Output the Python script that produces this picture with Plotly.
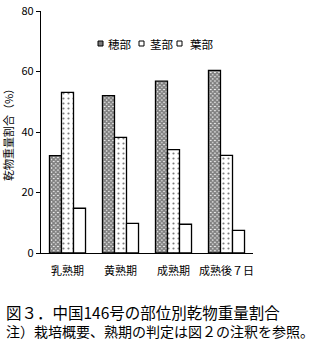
import plotly.graph_objects as go

categories = ["乳熟期", "黄熟期", "成熟期", "成熟後７日"]
series_names = ["穂部", "茎部", "葉部"]
ear = [32.2, 52.0, 56.8, 60.4]
stem = [53.1, 38.2, 34.2, 32.3]
leaf = [14.8, 9.8, 9.5, 7.5]
y_ticks = [0, 20, 40, 60, 80]

FONT = "Noto Sans CJK JP"
L, R, T, B, W, H = 41, 73, 11, 88, 326, 341
PW, PH = W - L - R, H - T - B


def px(x):
    return (x - L) / PW


def py(y):
    return (H - B - y) / PH


fig = go.Figure()
patterns = [
    dict(shape="x", size=3, solidity=0.8, fgcolor="black", bgcolor="white"),
    dict(shape=".", size=5, solidity=0.15, fgcolor="black", bgcolor="white"),
    dict(shape="", fgcolor="black", bgcolor="white"),
]
for name, vals, pat in zip(series_names, [ear, stem, leaf], patterns):
    fig.add_trace(go.Bar(
        x=categories, y=vals, name=name,
        marker=dict(color="white", line=dict(color="black", width=1.3), pattern=pat),
    ))

fig.update_layout(
    width=W, height=H,
    margin=dict(l=L, r=R, t=T, b=B, pad=0, autoexpand=False),
    paper_bgcolor="white", plot_bgcolor="white",
    barmode="group", bargap=0.32, bargroupgap=0,
    font=dict(family=FONT, size=11, color="black"),
    showlegend=False,
    xaxis=dict(showline=True, linecolor="black", linewidth=1.3, ticks="",
               tickfont=dict(size=11), showgrid=False, ticklabelstandoff=8,
               automargin=False),
    yaxis=dict(range=[0, 80], tickvals=y_ticks, showline=True, linecolor="black",
               linewidth=1.3, ticks="outside", ticklen=4, tickcolor="black",
               showgrid=False, zeroline=False, tickfont=dict(size=11), automargin=False,
               title=dict(text="乾物重量割合（%）", font=dict(size=11), standoff=8)),
)

# legend (manual, to match the compact reference layout)
legend_sym_x = [98, 139, 177]
legend_txt_x = [106, 148, 188]
legend_fill = ["#7a7a7a", "white", "white"]
for name, sx, tx, fc in zip(series_names, legend_sym_x, legend_txt_x, legend_fill):
    fig.add_shape(type="rect", xref="paper", yref="paper",
                  x0=px(sx), x1=px(sx + 5), y0=py(46), y1=py(41),
                  fillcolor=fc, line=dict(color="black", width=1))
    fig.add_annotation(text=name, xref="paper", yref="paper", x=px(tx), y=py(43.5),
                       xanchor="left", yanchor="middle", showarrow=False,
                       font=dict(size=11.5, family=FONT))

fig.add_annotation(
    text='<span style="font-size:15.5px">図３．中国146号の部位別乾物重量割合</span><br>'
         '注）栽培概要、熟期の判定は図２の注釈を参照。',
    xref="paper", yref="paper", x=px(4), y=py(299), xanchor="left", yanchor="top",
    align="left", showarrow=False, font=dict(size=14, family=FONT))

fig.write_html("out.html")
